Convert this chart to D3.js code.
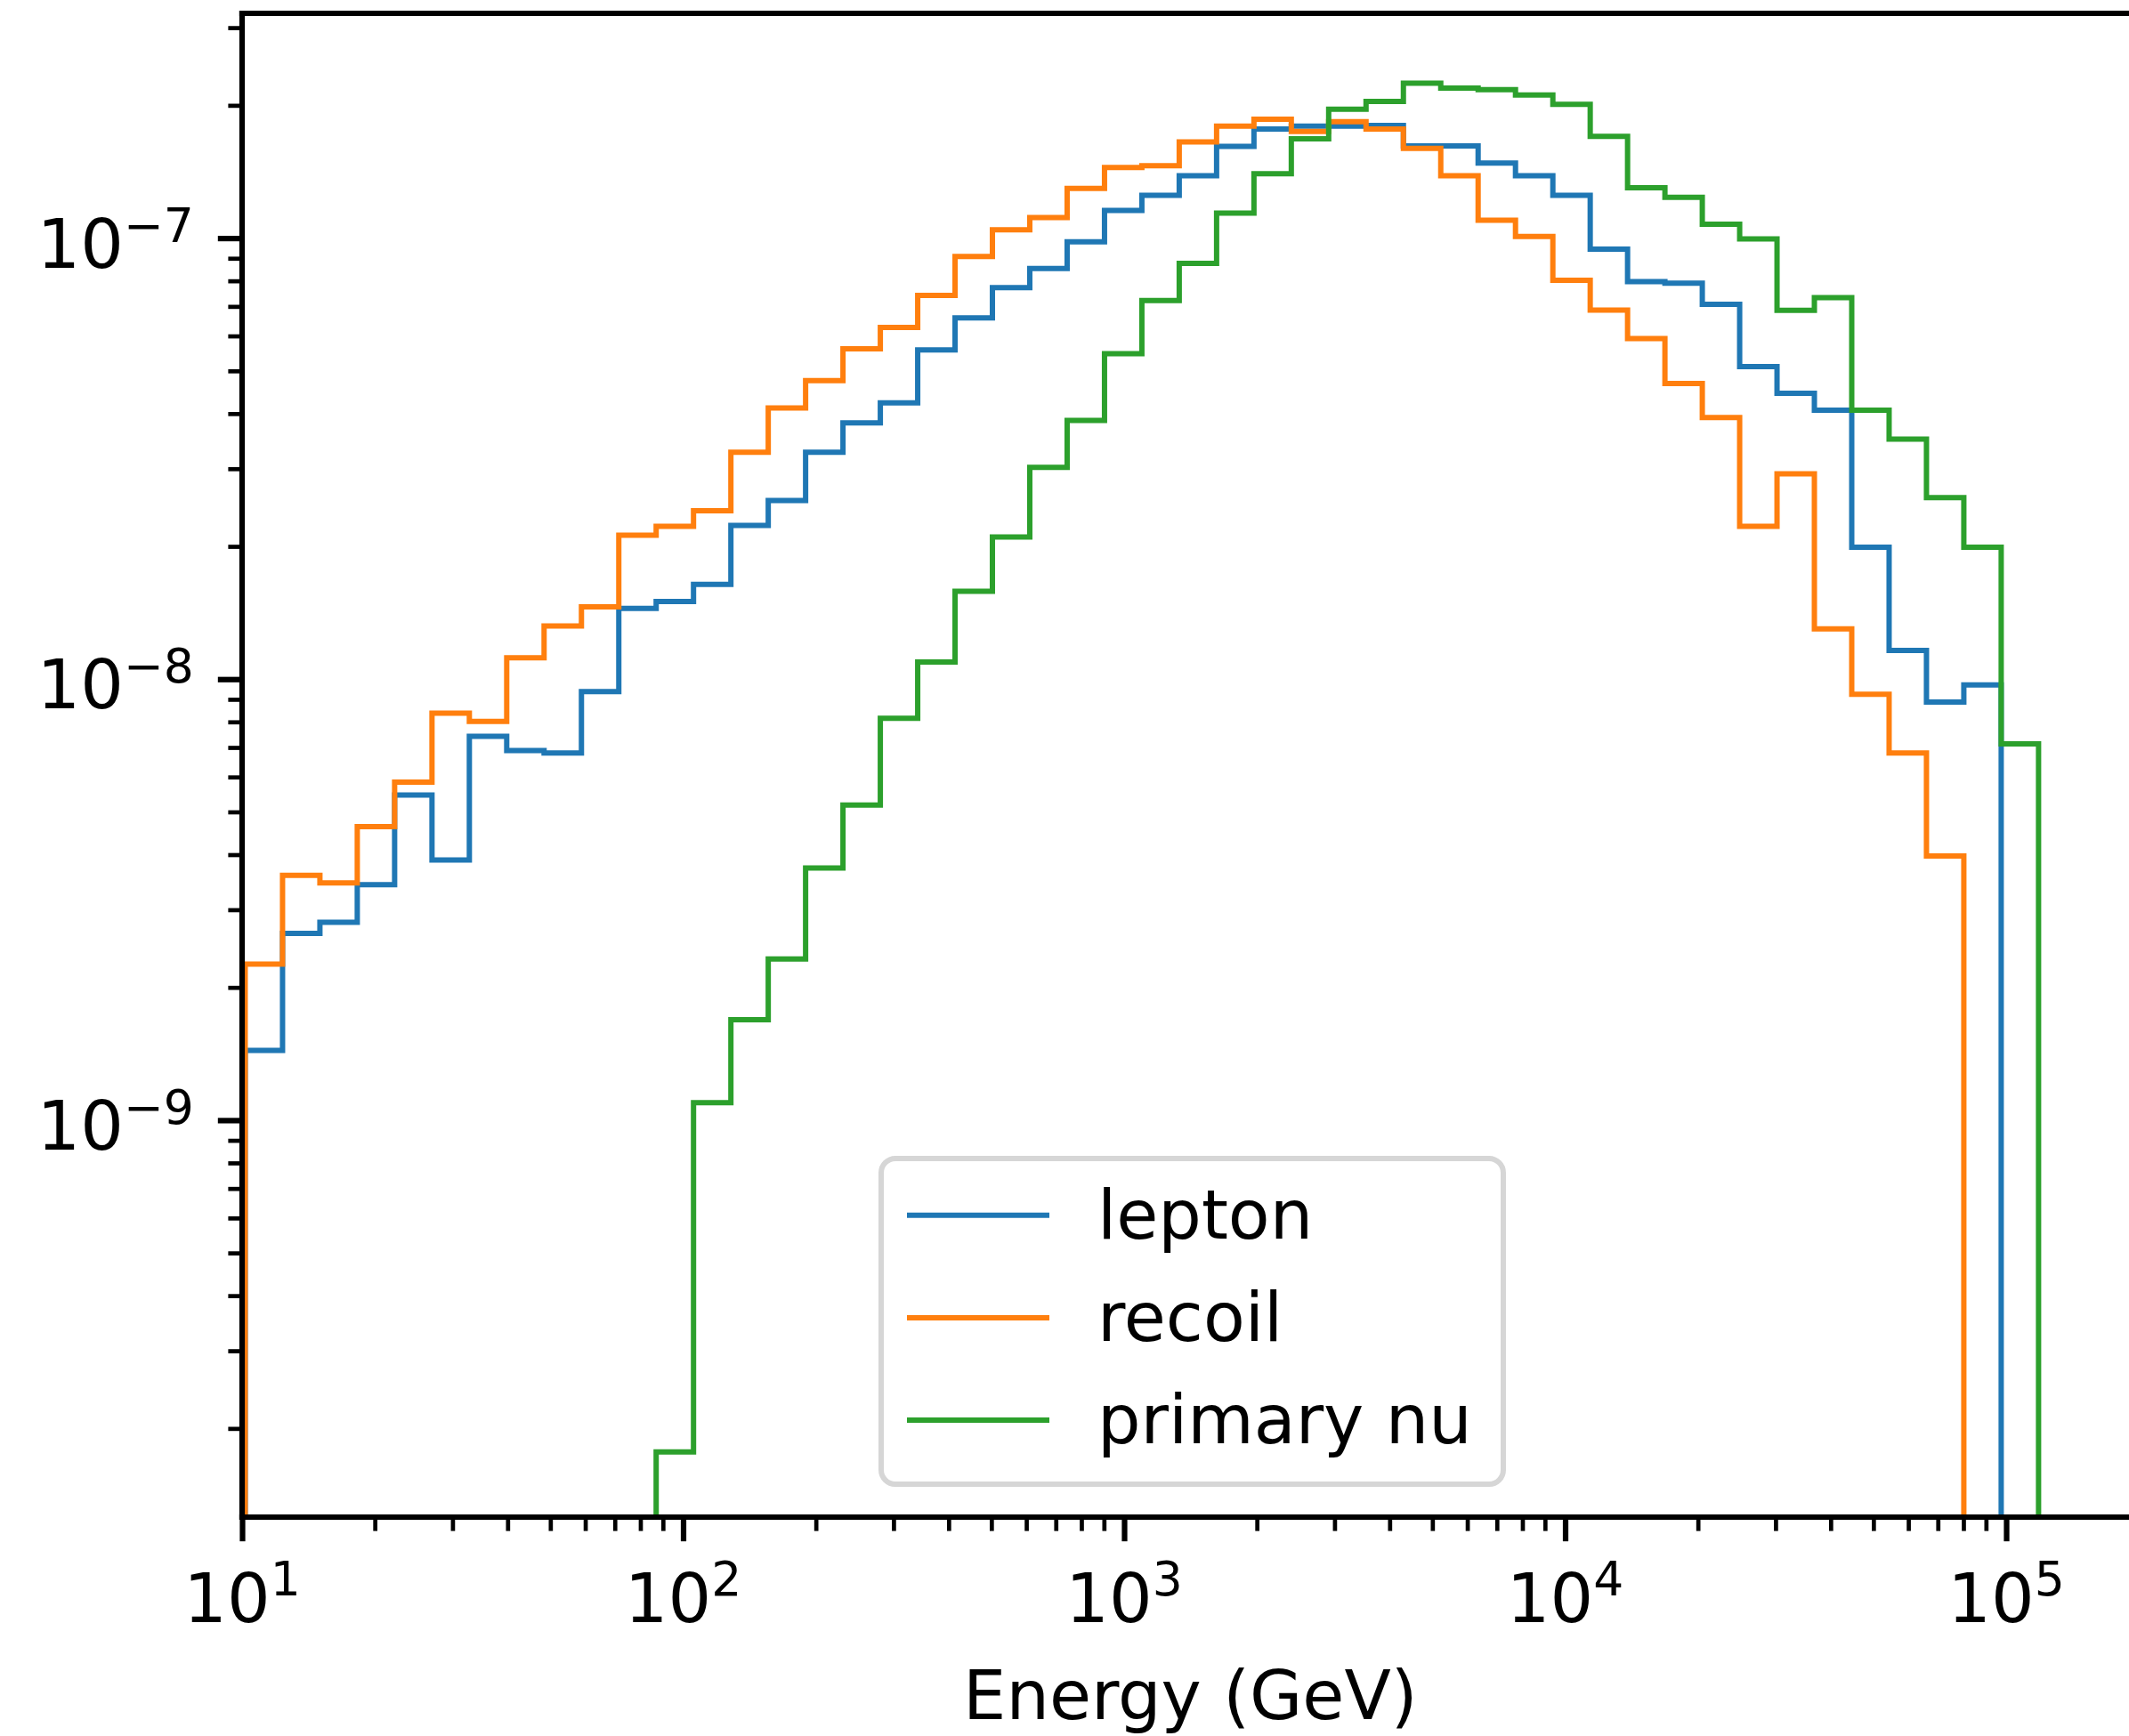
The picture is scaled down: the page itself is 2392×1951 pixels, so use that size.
<!DOCTYPE html>
<html><head><meta charset="utf-8">
<script src="https://cdn.jsdelivr.net/npm/d3@7"></script>
<style>
body{margin:0;background:#fff;}
svg{display:block;}
text{font-family:"DejaVu Sans", sans-serif;fill:#000;}
</style>
</head><body>
<svg id="chart" width="2392" height="1951"></svg>
<script>
// ---- data ----
const seriesNames = ["lepton", "recoil", "primary nu"];
const seriesColors = ["#1f77b4", "#ff7f0e", "#2ca02c"];
// shared log-spaced bin grid (log10 of first edge, width in decades, number of bins)
const binLogStart = 1.007;
const binLogWidth = 0.084717;
const binCount = 48;
const leptonStartBin = 0;
const lepton = [1.44e-9, 2.65e-9, 2.81e-9, 3.42e-9, 5.46e-9, 3.89e-9, 7.42e-9, 6.89e-9, 6.80e-9, 9.37e-9,
  1.446e-8, 1.50e-8, 1.64e-8, 2.23e-8, 2.54e-8, 3.27e-8, 3.81e-8, 4.23e-8, 5.58e-8, 6.59e-8,
  7.72e-8, 8.53e-8, 9.81e-8, 1.156e-7, 1.251e-7, 1.385e-7, 1.615e-7, 1.767e-7, 1.794e-7, 1.794e-7,
  1.80e-7, 1.618e-7, 1.618e-7, 1.479e-7, 1.385e-7, 1.251e-7, 9.44e-8, 7.97e-8, 7.90e-8, 7.08e-8,
  5.11e-8, 4.45e-8, 4.07e-8, 1.99e-8, 1.161e-8, 8.87e-9, 9.70e-9];
const recoilStartBin = 0;
const recoil = [2.26e-9, 3.59e-9, 3.45e-9, 4.63e-9, 5.84e-9, 8.37e-9, 8.02e-9, 1.118e-8, 1.32e-8, 1.459e-8,
  2.12e-8, 2.22e-8, 2.41e-8, 3.27e-8, 4.12e-8, 4.75e-8, 5.61e-8, 6.27e-8, 7.41e-8, 9.08e-8,
  1.044e-7, 1.113e-7, 1.296e-7, 1.445e-7, 1.46e-7, 1.653e-7, 1.794e-7, 1.86e-7, 1.744e-7, 1.837e-7,
  1.767e-7, 1.597e-7, 1.385e-7, 1.098e-7, 1.008e-7, 8.02e-8, 6.87e-8, 5.92e-8, 4.68e-8, 3.92e-8,
  2.22e-8, 2.92e-8, 1.30e-8, 9.24e-9, 6.80e-9, 3.97e-9];
const primaryStartBin = 11;
const primaryNu = [1.77e-10, 1.095e-9, 1.69e-9, 2.32e-9, 3.73e-9, 5.18e-9, 8.15e-9, 1.093e-8, 1.582e-8,
  2.10e-8, 3.02e-8, 3.86e-8, 5.47e-8, 7.22e-8, 8.76e-8, 1.14e-7, 1.40e-7, 1.679e-7, 1.96e-7,
  2.04e-7, 2.245e-7, 2.188e-7, 2.17e-7, 2.11e-7, 2.01e-7, 1.70e-7, 1.30e-7, 1.237e-7, 1.075e-7,
  9.96e-8, 6.86e-8, 7.33e-8, 4.07e-8, 3.50e-8, 2.58e-8, 1.99e-8, 7.13e-9];
const xTickExponents = [1, 2, 3, 4, 5];
const yTickExponents = [-9, -8, -7];
const xDomain = [10, Math.pow(10, 5.3)];
const yDomain = [Math.pow(10, -9.9), Math.pow(10, -6.4904)];
const xLabel = "Energy (GeV)";

// ---- layout ----
const plotLeft = 272, plotTop = 15, plotW = 2130.65, plotH = 1690;
const fontSize = 76.5, supSize = 53.5;
const majorLen = 27.2, minorLen = 15.6, majorW = 6.2, minorW = 4.7, spineW = 6.2;
const lineW = 6;

const svg = d3.select("#chart");
const x = d3.scaleLog().domain(xDomain).range([plotLeft, plotLeft + plotW]);
const y = d3.scaleLog().domain(yDomain).range([plotTop + plotH, plotTop]);

const edges = d3.range(binCount + 1).map(k => Math.pow(10, binLogStart + k * binLogWidth));
const floorVal = 1e-13;

svg.append("defs").append("clipPath").attr("id", "plotclip")
  .append("rect").attr("x", plotLeft).attr("y", plotTop).attr("width", plotW).attr("height", plotH);

const series = [
  {name: seriesNames[0], color: seriesColors[0], start: leptonStartBin, vals: lepton},
  {name: seriesNames[1], color: seriesColors[1], start: recoilStartBin, vals: recoil},
  {name: seriesNames[2], color: seriesColors[2], start: primaryStartBin, vals: primaryNu}
];

function stepPoints(s) {
  const pts = [[edges[s.start], floorVal]];
  s.vals.forEach((v, i) => {
    pts.push([edges[s.start + i], v]);
    pts.push([edges[s.start + i + 1], v]);
  });
  pts.push([edges[s.start + s.vals.length], floorVal]);
  return pts;
}
const line = d3.line().x(d => x(d[0])).y(d => y(d[1]));

const gLines = svg.append("g").attr("clip-path", "url(#plotclip)");
gLines.selectAll("path").data(series).join("path")
  .attr("d", s => line(stepPoints(s)))
  .attr("fill", "none")
  .attr("stroke", s => s.color)
  .attr("stroke-width", lineW)
  .attr("stroke-linejoin", "miter")
  .attr("stroke-linecap", "butt");

// ---- axes ticks ----
const isMajor = v => Math.abs(Math.log10(v) - Math.round(Math.log10(v))) < 1e-9;
const xAll = x.ticks();
const yAll = y.ticks();

function drawTicks(axisFn, scale, vals, len, w, transform) {
  const g = svg.append("g").attr("transform", transform)
    .call(axisFn(scale).tickValues(vals).tickSize(len).tickFormat(""));
  g.select(".domain").remove();
  g.selectAll(".tick line").attr("stroke", "#000").attr("stroke-width", w);
  g.selectAll(".tick text").remove();
}
drawTicks(d3.axisBottom, x, xAll.filter(v => !isMajor(v)), minorLen, minorW, `translate(0,${plotTop + plotH})`);
drawTicks(d3.axisBottom, x, xAll.filter(isMajor), majorLen, majorW, `translate(0,${plotTop + plotH})`);
drawTicks(d3.axisLeft, y, yAll.filter(v => !isMajor(v)), minorLen, minorW, `translate(${plotLeft},0)`);
drawTicks(d3.axisLeft, y, yAll.filter(isMajor), majorLen, majorW, `translate(${plotLeft},0)`);

// spines
const spines = svg.append("g").attr("stroke", "#000").attr("stroke-width", spineW).attr("stroke-linecap", "square");
spines.append("line").attr("x1", plotLeft).attr("x2", plotLeft).attr("y1", plotTop).attr("y2", plotTop + plotH);
spines.append("line").attr("x1", plotLeft).attr("x2", plotLeft + plotW).attr("y1", plotTop + plotH).attr("y2", plotTop + plotH);
spines.append("line").attr("x1", plotLeft).attr("x2", plotLeft + plotW).attr("y1", plotTop).attr("y2", plotTop);

// tick labels
const xl = svg.append("g").selectAll("text").data(xTickExponents).join("text")
  .attr("x", e => x(Math.pow(10, e)))
  .attr("y", plotTop + plotH + 118)
  .attr("text-anchor", "middle")
  .attr("font-size", fontSize);
xl.append("tspan").text("10");
xl.append("tspan").attr("dy", -30).attr("font-size", supSize).text(e => String(e));

const yl = svg.append("g").selectAll("text").data(yTickExponents).join("text")
  .attr("x", plotLeft - majorLen - 27)
  .attr("y", e => y(Math.pow(10, e)) + 33)
  .attr("text-anchor", "end")
  .attr("font-size", fontSize);
yl.append("tspan").text("10");
yl.append("tspan").attr("dy", -29).attr("font-size", supSize).text(e => "\u2212" + String(-e));

// x label
svg.append("text").attr("x", plotLeft + plotW / 2).attr("y", 1932)
  .attr("text-anchor", "middle").attr("font-size", fontSize).text(xLabel);

// legend
const legX = 990, legY = 1302, legW = 699, legH = 366;
svg.append("rect").attr("x", legX).attr("y", legY).attr("width", legW).attr("height", legH)
  .attr("rx", 16).attr("ry", 16)
  .attr("fill", "#fff").attr("fill-opacity", 0.8)
  .attr("stroke", "#d6d6d6").attr("stroke-width", 6);
const legItems = svg.append("g").selectAll("g").data(series).join("g")
  .attr("transform", (d, i) => `translate(0,${1365.7 + i * 115.2})`);
legItems.append("line").attr("x1", 1019).attr("x2", 1179).attr("y1", 0).attr("y2", 0)
  .attr("stroke", d => d.color).attr("stroke-width", lineW);
legItems.append("text").attr("x", 1233).attr("y", 26).attr("font-size", fontSize).text(d => d.name);
</script>
</body></html>
